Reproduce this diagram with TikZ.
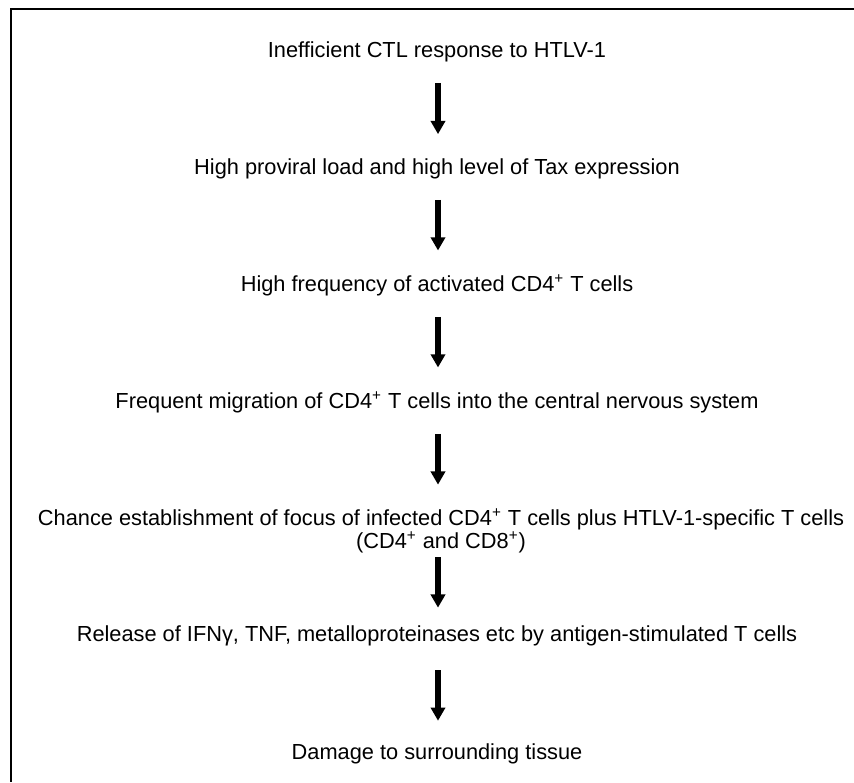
\documentclass[tikz,border=0pt]{standalone}
\usepackage{fontspec}
\setmainfont{Liberation Sans}
\usetikzlibrary{arrows.meta}
\tikzset{
    stage/.style={anchor=base, inner sep=0pt, align=center, font=\fontsize{12.4}{13}\selectfont},
    flow/.style={line width=3.1pt, -{Triangle[width=8pt, length=7.5pt]}, shorten <=12pt, shorten >=13.5pt}
}
\begin{document}
\begin{tikzpicture}[x=0.02cm, y=-0.02cm]
    \useasboundingbox (0,0) rectangle (854,782);
    \draw[line width=1.2pt] (854,9) -- (11,9) -- (11,782);
    \node[stage] (ctl)    at (437,57)  {Inefficient CTL response to HTLV-1};
    \node[stage] (load)   at (437,174) {High proviral load and high level of Tax expression};
    \node[stage] (freq)   at (437,291) {High frequency of activated CD4\textsuperscript{+} T cells};
    \node[stage] (migr)   at (437,408) {Frequent migration of CD4\textsuperscript{+} T cells into the central nervous system};
    \node[stage] (focus)  at (441,548) {Chance establishment of focus of infected CD4\textsuperscript{+} T cells plus HTLV-1-specific T cells\\(CD4\textsuperscript{+} and CD8\textsuperscript{+})};
    \node[stage] (rel)    at (437,641) {Release of IFNγ, TNF, metalloproteinases etc by antigen-stimulated T cells};
    \node[stage] (damage) at (437,759) {Damage to surrounding tissue};
    % arrows between the stages
    \draw[flow] (ctl.south -| 438,0) -- (load.north -| 438,0);
    \draw[flow] (load.south -| 438,0) -- (freq.north -| 438,0);
    \draw[flow] (freq.south -| 438,0) -- (migr.north -| 438,0);
    \draw[flow] (migr.south -| 438,0) -- (focus.north -| 438,0);
    \draw[flow, shorten <=2.6pt, shorten >=9.8pt] (focus.south -| 438,0) -- (rel.north -| 438,0);
    \draw[flow, shorten <=14pt, shorten >=12.6pt] (rel.south -| 438,0) -- (damage.north -| 438,0);
\end{tikzpicture}
\end{document}
